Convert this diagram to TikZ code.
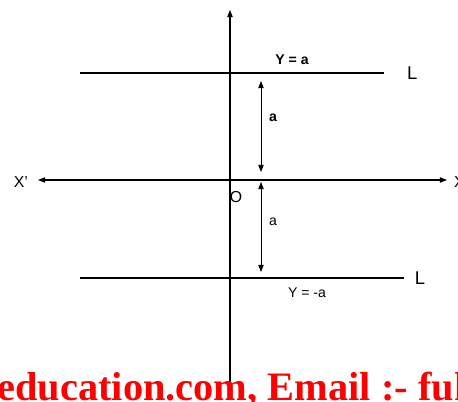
\documentclass[tikz,border=0pt]{standalone}
\usepackage{fontspec}
\setmainfont{Liberation Sans}
\newfontfamily\markfont{Liberation Serif}
\usetikzlibrary{arrows.meta,positioning}

\begin{document}
\begin{tikzpicture}[x=0.02cm, y=-0.02cm,
  axis/.style={draw, line width=0.6pt, -{Triangle[length=4pt,width=3pt]}},
  biaxis/.style={draw, line width=0.6pt,
                 {Triangle[length=4pt,width=3pt]}-{Triangle[length=4pt,width=3pt]}},
  lineL/.style={draw, line width=0.6pt},
  dim/.style={draw, line width=0.5pt,
              {Triangle[length=4pt,width=3pt]}-{Triangle[length=4pt,width=3pt]}},
  lbl/.style={font=\fontsize{8}{9}\selectfont, inner sep=1pt},
  big/.style={font=\fontsize{10.5}{12}\selectfont, inner sep=1pt},
  watermark/.style={font=\markfont\bfseries\fontsize{23}{25}\selectfont,
               text=red, inner sep=0pt, anchor=base west},
]
  \useasboundingbox (0,0) rectangle (458,402);
  \clip (0,0) rectangle (458,402);

  % Axes
  \coordinate (xl) at (38,180);
  \coordinate (xr) at (447,180);
  \coordinate (yt) at (230,10);
  \coordinate (yb) at (230,400);
  \draw[biaxis] (xl) -- (xr);
  \draw[axis] (yb) -- (yt);
  \node[lbl, font=\fontsize{9}{10}\selectfont, anchor=east] (xlab) at (30,182) {X'};
  \node[lbl, font=\fontsize{9}{10}\selectfont, anchor=west] (xrab) at (452,182) {X};
  \node[lbl, font=\fontsize{9}{10}\selectfont] (orig) at (236,197) {O};

  % Line y = a
  \coordinate (ta) at (80,73);
  \coordinate (tb) at (384,73);
  \draw[lineL] (ta) -- (tb);
  \node[big, right=12pt of tb] (Ltop) {L};
  \node[lbl, font=\bfseries\fontsize{8}{9}\selectfont] (eqtop) at (292,60) {Y = a};

  % Line y = -a
  \coordinate (ba) at (80,278);
  \coordinate (bb) at (404,278);
  \draw[lineL] (ba) -- (bb);
  \node[big, right=5pt of bb] (Lbot) {L};
  \node[lbl] (eqbot) at (307,293) {Y = -a};

  % Distances a
  \coordinate (d1) at (261,81);
  \coordinate (d2) at (261,172);
  \coordinate (d3) at (261,182);
  \coordinate (d4) at (261,272);
  \draw[dim] (d1) -- (d2);
  \draw[dim] (d3) -- (d4);
  \node[lbl, font=\bfseries\fontsize{8}{9}\selectfont, anchor=west] (atop) at (267,118) {a};
  \node[lbl, anchor=west] (abot) at (267,222) {a};

  % Watermark
  \node[watermark] (wm) at (-3,401) {education.com, Email :- fuk};
\end{tikzpicture}
\end{document}
